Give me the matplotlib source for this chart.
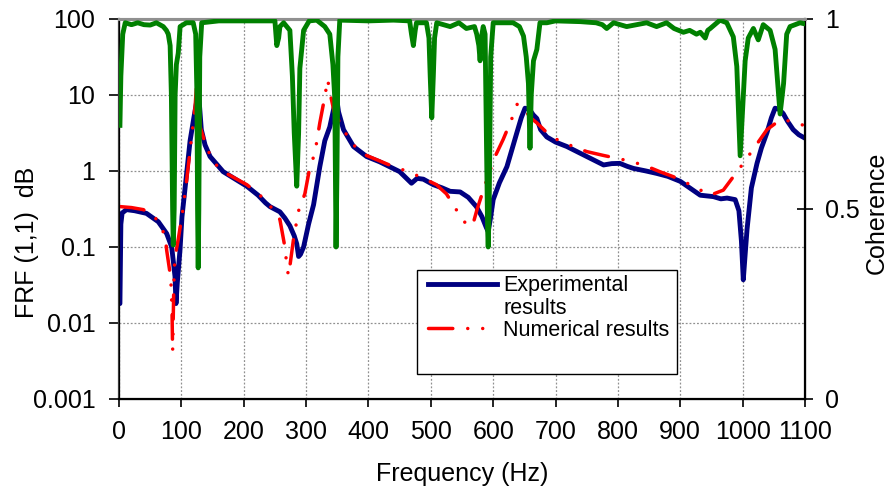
import numpy as np
import matplotlib
matplotlib.use("Agg")
from matplotlib import pyplot as plt
from matplotlib.lines import Line2D
from matplotlib.patches import Rectangle
from matplotlib.ticker import FixedLocator, FixedFormatter

plt.rcParams['font.family'] = ['Liberation Sans', 'DejaVu Sans']

# experimental FRF
exp_freq = [1.5, 3, 5, 12, 25, 44, 63, 76.5, 84.5, 89.8, 91.4, 93.5, 97.8, 101, 106, 114,
            120, 125, 128, 132, 138, 146, 167, 205, 223, 235, 242, 258, 266, 274, 281,
            285, 288, 291, 296, 304, 312, 322, 330, 338, 345, 349, 352, 360, 376, 397,
            418, 450, 469, 478, 488, 504, 518, 531, 547, 560, 573, 582, 589, 592, 596,
            600, 610, 622, 638, 645, 651, 658, 664, 670, 676, 686, 700, 718, 750, 777,
            790, 803, 815, 825, 845, 862, 880, 900, 915, 932, 953, 965, 975, 988, 994,
            998, 1001, 1004, 1007, 1014, 1023, 1030, 1039, 1046, 1052, 1058, 1065, 1072,
            1081, 1090, 1100]
exp_vals = [0.018, 0.2, 0.28, 0.31, 0.3, 0.277, 0.215, 0.15, 0.1, 0.041, 0.018, 0.034, 0.091,
            0.25, 0.6, 2.5, 5.0, 8.6, 9.5, 3.5, 2.2, 1.55, 0.98, 0.63, 0.48, 0.38, 0.34,
            0.29, 0.24, 0.19, 0.14, 0.11, 0.075, 0.08, 0.1, 0.2, 0.36, 1.14, 2.5, 3.8, 7.0,
            9.0, 6.0, 3.5, 2.1, 1.55, 1.32, 0.98, 0.69, 0.8, 0.78, 0.66, 0.6, 0.54, 0.53,
            0.45, 0.34, 0.25, 0.18, 0.16, 0.25, 0.42, 0.7, 1.14, 3.2, 5.0, 6.7, 6.5, 5.5,
            4.9, 3.5, 2.8, 2.4, 2.1, 1.55, 1.2, 1.25, 1.26, 1.15, 1.08, 1.0, 0.93, 0.85,
            0.73, 0.6, 0.48, 0.46, 0.43, 0.44, 0.42, 0.3, 0.12, 0.037, 0.08, 0.17, 0.6,
            1.26, 2.0, 3.2, 5.0, 6.7, 6.5, 5.7, 4.5, 3.5, 3.0, 2.7]

# numerical FRF
num_freq = [1.5, 20, 39, 55, 63, 74, 76.5, 83, 85, 86, 87.5, 88.5, 91, 95, 102, 108.5,
            116, 122, 125, 127, 130, 140, 151, 167, 205, 226, 242, 258, 266, 268, 271.5,
            274, 280, 288, 298, 306, 314, 322, 330, 334.6, 338, 345, 354, 373, 397, 440,
            464, 488, 509, 525, 536, 549, 557, 564, 569, 574, 587, 603, 616, 630, 638.6,
            650, 660, 670, 686, 702, 728, 750, 777, 810, 841, 867, 889, 916, 948, 969,
            985, 1001, 1025, 1039, 1060, 1081, 1097]
num_vals = [0.34, 0.33, 0.31, 0.26, 0.215, 0.14, 0.09, 0.039, 0.015, 0.0042, 0.02, 0.052,
            0.083, 0.126, 0.29, 0.76, 2.6, 7.0, 16.0, 12.0, 3.8, 2.1, 1.32, 0.98, 0.66,
            0.48, 0.35, 0.23, 0.1, 0.07, 0.042, 0.056, 0.13, 0.3, 0.5, 1.12, 1.7, 4.3, 9.5,
            16.0, 11.0, 6.0, 4.3, 2.3, 1.6, 1.14, 0.98, 0.8, 0.66, 0.5, 0.36, 0.24, 0.2,
            0.186, 0.22, 0.31, 0.66, 1.55, 2.6, 4.9, 7.6, 6.5, 5.0, 4.3, 3.2, 2.6, 2.1,
            1.8, 1.6, 1.4, 1.2, 0.98, 0.84, 0.66, 0.48, 0.56, 0.84, 1.26, 2.4, 3.5, 4.7,
            4.5, 4.0]

# coherence
coh_freq = [1.5, 3, 6, 10, 20, 30, 40, 50, 60, 71, 76, 79, 82, 84, 86, 87, 88.5, 90, 92,
            95, 98, 108, 119, 123, 125, 126, 127, 128, 129.5, 132.6, 160, 200, 230, 250,
            253, 256, 258, 264, 274, 278, 281, 285, 288, 290, 296, 305, 317, 330, 338,
            343, 346, 347, 348, 349.5, 351, 354, 400, 440, 466, 469, 472, 475, 477, 493,
            497, 499, 501.5, 504, 506, 509.5, 531, 545, 557, 570, 573.6, 577, 579, 581,
            584, 587, 589, 591, 592, 593.5, 596, 600, 632, 642, 648.6, 653, 656.5, 659,
            661, 664.6, 670, 675, 686, 700, 740, 765, 775, 782, 793, 814, 830, 846, 862,
            878, 890, 905, 915, 926, 932, 940, 944, 948, 963.7, 974.5, 985, 990.6, 996,
            1001.4, 1004, 1009, 1017.2, 1025, 1033, 1044, 1052, 1060, 1065.6, 1070.6,
            1076, 1092, 1100]
coh_vals = [0.72, 0.85, 0.96, 0.99, 0.985, 0.99, 0.985, 0.984, 0.99, 0.98, 0.97, 0.96, 0.93,
            0.8, 0.5, 0.405, 0.5, 0.8, 0.88, 0.91, 0.98, 0.99, 0.99, 0.96, 0.8, 0.5, 0.345,
            0.5, 0.9, 0.99, 0.995, 0.995, 0.995, 0.995, 0.93, 0.95, 0.98, 0.99, 0.97, 0.85,
            0.7, 0.56, 0.7, 0.87, 0.97, 0.995, 0.997, 0.98, 0.96, 0.88, 0.79, 0.6, 0.4, 0.6,
            0.9, 0.997, 0.995, 0.997, 0.995, 0.96, 0.93, 0.97, 0.99, 0.99, 0.95, 0.85, 0.74,
            0.85, 0.95, 0.99, 0.98, 0.99, 0.975, 0.98, 0.96, 0.93, 0.89, 0.95, 0.98, 0.96,
            0.7, 0.45, 0.4, 0.5, 0.9, 0.99, 0.99, 0.98, 0.955, 0.9, 0.83, 0.66, 0.8, 0.89,
            0.92, 0.99, 0.99, 0.995, 0.993, 0.99, 0.985, 0.975, 0.99, 0.98, 0.985, 0.99,
            0.98, 0.99, 0.975, 0.965, 0.97, 0.96, 0.965, 0.95, 0.97, 0.975, 0.997, 0.99,
            0.953, 0.875, 0.64, 0.81, 0.89, 0.95, 0.975, 0.945, 0.985, 0.97, 0.92, 0.75,
            0.83, 0.96, 0.98, 0.99, 0.987]

frf_ticks = [0.001, 0.01, 0.1, 1, 10, 100]
frf_labels = ['0.001', '0.01', '0.1', '1', '10', '100']
freq_ticks = list(range(0, 1101, 100))
coh_ticks = [0, 0.5, 1]
coh_labels = ['0', '0.5', '1']

RED_DASH = (7, 4.3, 0.01, 4.3, 0.01, 4.3)

fig = plt.figure(figsize=(8.92, 4.93), dpi=100)
fig.subplots_adjust(left=0.1334, right=0.9025, top=0.9615, bottom=0.1907)
ax = fig.add_subplot(111)

ax.plot(exp_freq, exp_vals, color='#000080', lw=3.5, solid_joinstyle='round',
        solid_capstyle='round', zorder=3)
red, = ax.plot(num_freq, num_vals, color='#ff0000', lw=2.5, zorder=4,
               dash_capstyle='round')
red.set_dashes(RED_DASH)

ax.set_yscale('log')
ax.set_ylim(0.001, 100)
ax.set_xlim(0, 1100)
ax.yaxis.set_major_locator(FixedLocator(frf_ticks))
ax.yaxis.set_major_formatter(FixedFormatter(frf_labels))
ax.yaxis.set_minor_locator(FixedLocator([]))
ax.set_xticks(freq_ticks)
ax.grid(True, which='major', linestyle=(0, (1.5, 1.5)), color='#909090', lw=0.9)

for s in ['left', 'bottom']:
    ax.spines[s].set_linewidth(1.6)
ax.spines['left'].set_color('#404040')
ax.spines['top'].set_color('#909090')
ax.spines['top'].set_linewidth(2.2)

ax.tick_params(axis='both', labelsize=18, width=1.2)
ax.tick_params(axis='y', direction='out', length=7, pad=10)
ax.tick_params(axis='x', direction='out', length=6, pad=9)

ax.set_xlabel('Frequency (Hz)', fontsize=18, labelpad=13)
ax.set_ylabel('FRF (1,1)  dB', fontsize=18)
ax.yaxis.set_label_coords(-0.116, 0.413)

ax2 = ax.twinx()
ax2.plot(coh_freq, coh_vals, color='#008000', lw=3.5, solid_joinstyle='round', zorder=3)
ax2.set_ylim(0, 1)
ax2.yaxis.set_major_locator(FixedLocator(coh_ticks))
ax2.yaxis.set_major_formatter(FixedFormatter(coh_labels))
ax2.tick_params(axis='y', labelsize=18, direction='inout', length=11, width=1.2, pad=9)
ax2.spines['right'].set_linewidth(1.6)
ax2.spines['top'].set_color('#909090')
ax2.spines['top'].set_linewidth(2.2)
ax2.set_ylabel('Coherence', fontsize=18)
ax2.yaxis.set_label_coords(1.087, 0.49)

# legend box
ax2.add_patch(Rectangle((0.434, 0.066), 0.379, 0.273, transform=ax2.transAxes,
                        facecolor='white', edgecolor='black', lw=1.0, zorder=8))
handles = [Line2D([], [], color='#000080', lw=3.5),
           Line2D([], [], color='none'),
           Line2D([], [], color='#ff0000', lw=2.5, dashes=RED_DASH,
                  dash_capstyle='round')]
leg = ax2.legend(handles, ['Experimental', 'results', 'Numerical results'],
                 loc='upper left', bbox_to_anchor=(0.441, 0.342), frameon=False,
                 fontsize=15.5, handlelength=3.2, handletextpad=0.3, labelspacing=0.05,
                 borderpad=0.3, borderaxespad=0.0)
leg.set_zorder(9)

fig.savefig('out.png', dpi=100)
